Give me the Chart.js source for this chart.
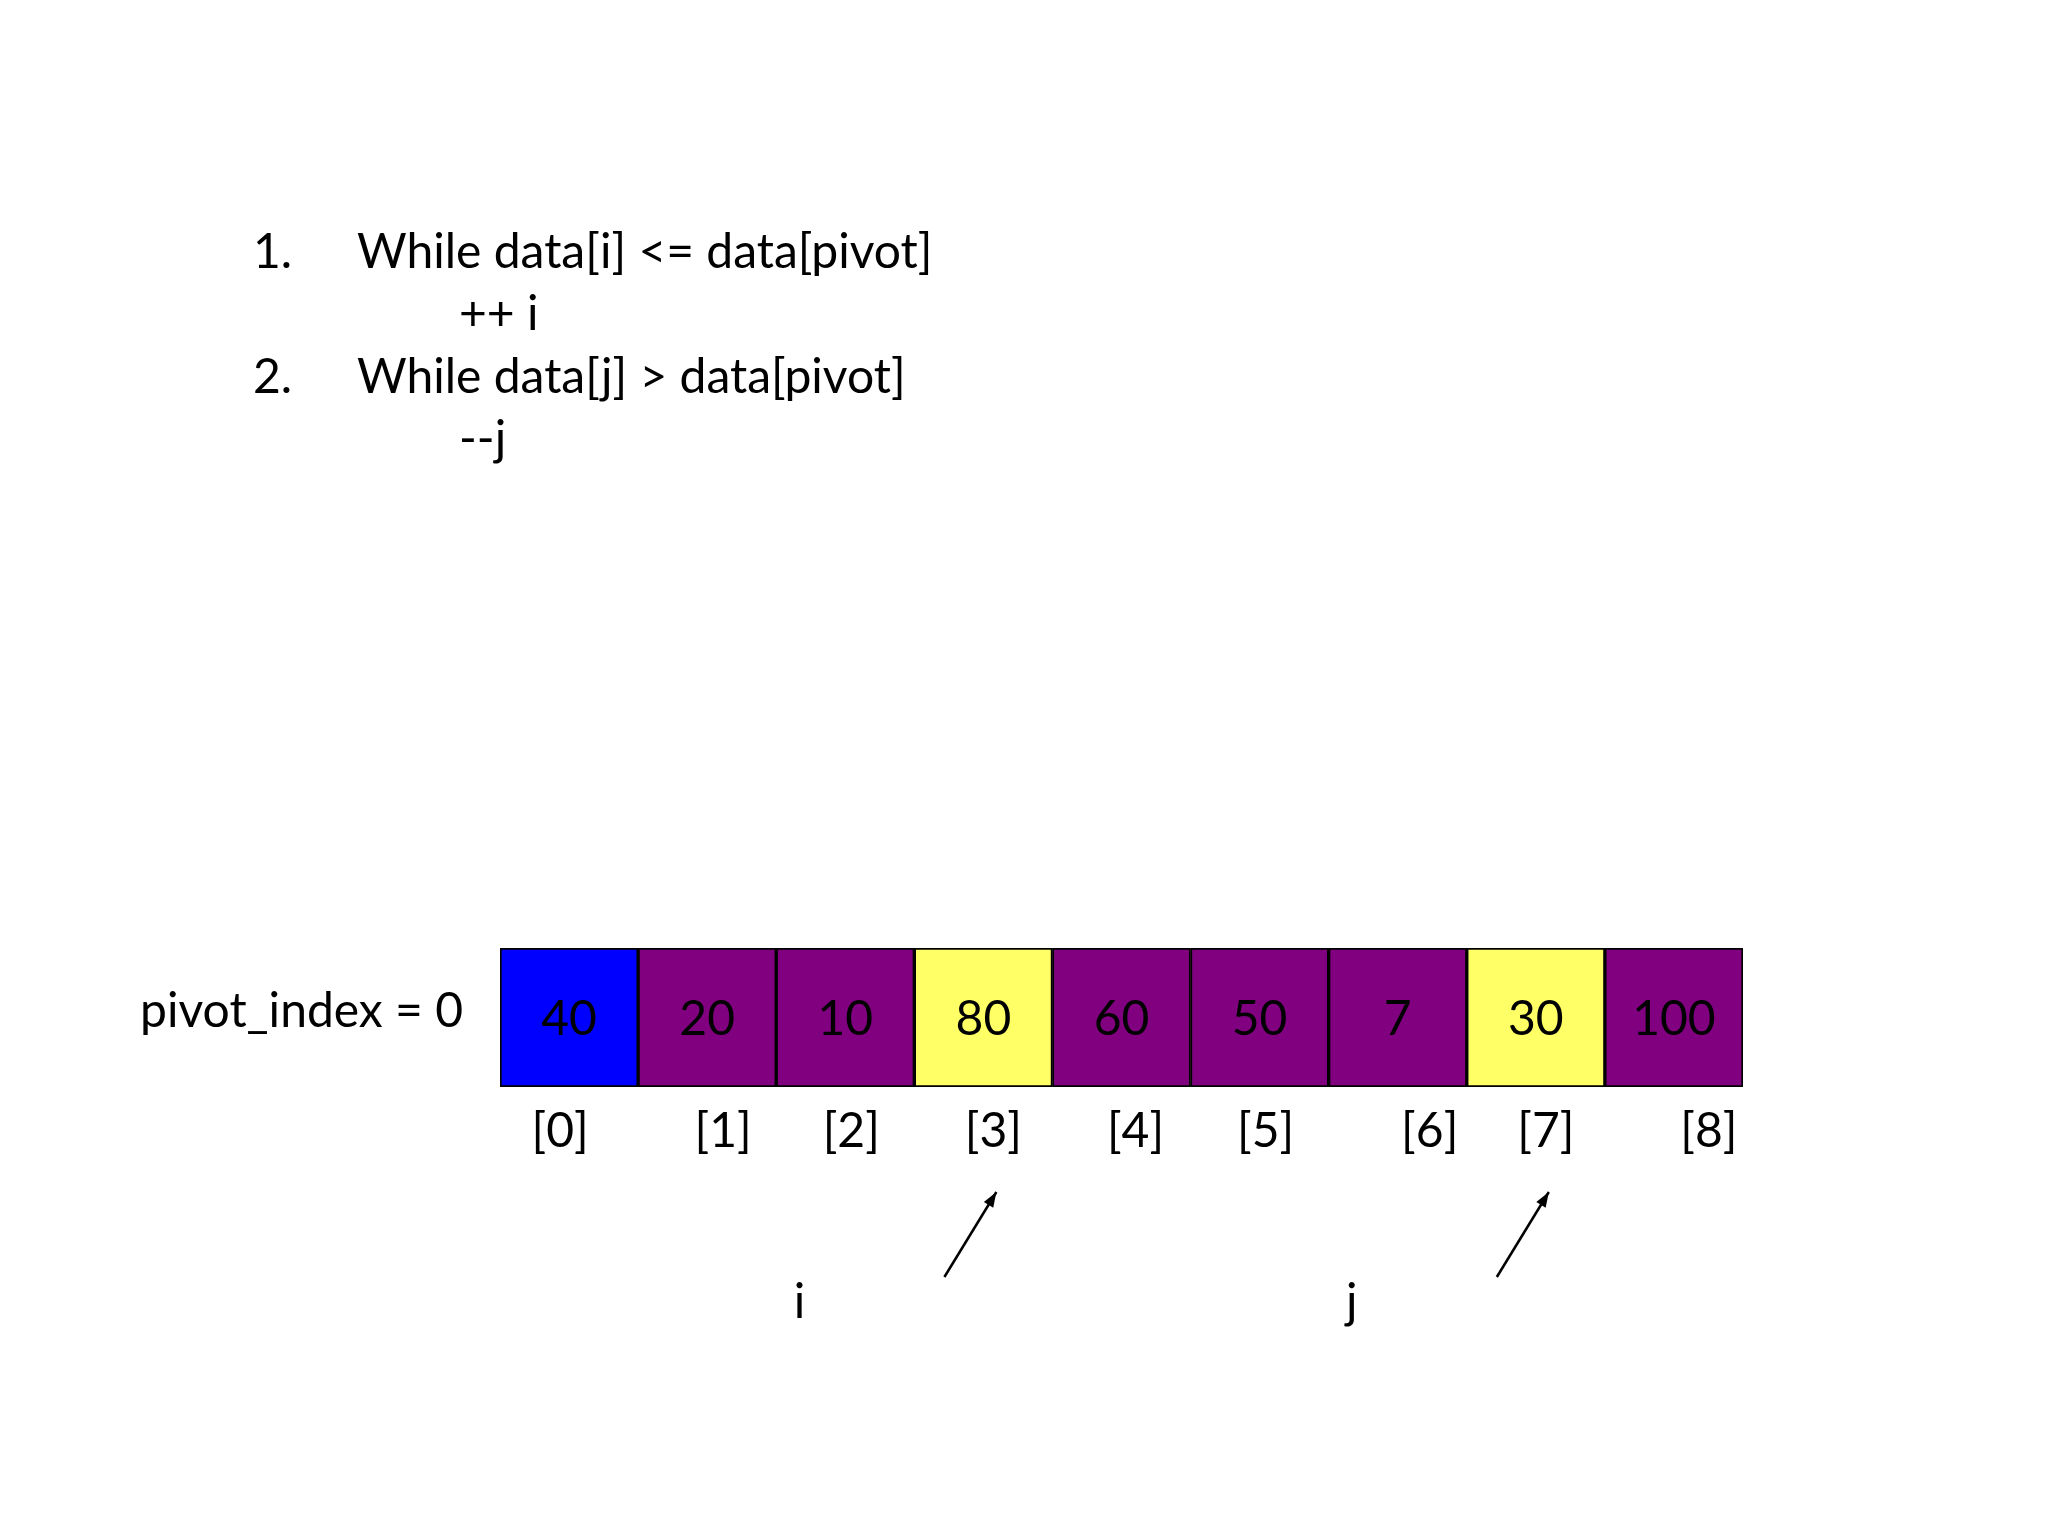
<!DOCTYPE html>
<html>
<head>
<meta charset="utf-8">
<script src="https://cdn.jsdelivr.net/npm/chart.js@4"></script>
<style>
  html, body { margin: 0; padding: 0; background: #fff; }
  canvas { display: block; }
</style>
</head>
<body>
<canvas id="chart" width="2048" height="1536"></canvas>
<script>
var CELL_VALUES = [40, 20, 10, 80, 60, 50, 7, 30, 100];
var CELL_INDEX = ['[0]', '[1]', '[2]', '[3]', '[4]', '[5]', '[6]', '[7]', '[8]'];
var CELL_COLORS = ['#0000ff', '#800080', '#800080', '#ffff66', '#800080', '#800080', '#800080', '#ffff66', '#800080'];
var STEPS = [
    ['1.', 'While data[i] <= data[pivot]', '++ i'],
    ['2.', 'While data[j] > data[pivot]', '--j']
];
var PIVOT_LABEL = 'pivot_index = 0';
var POINTERS = [
    { name: 'i', cell: 3 },
    { name: 'j', cell: 7 }
];

var FONT = '48px Lato, "Open Sans", sans-serif';

//disegna testi e frecce
var slidePlugin = {
    id: 'slide',
    afterDatasetsDraw: function (chart) {
        var ctx = chart.ctx;
        var meta = chart.getDatasetMeta(0);
        var area = chart.chartArea;
        var midY = (area.top + area.bottom) / 2;
        ctx.save();
        ctx.fillStyle = '#000';
        ctx.font = FONT;
        ctx.textBaseline = 'middle';

        // istruzioni
        ctx.textAlign = 'left';
        STEPS.forEach(function (s, k) {
            var y = 253 + k * 125;
            ctx.fillText(s[0], 253, y);
            ctx.fillText(s[1], 357, y);
            ctx.fillText(s[2], 459, y + 62);
        });

        ctx.textAlign = 'right';
        ctx.fillText(PIVOT_LABEL, 463, midY - 6);

        // valori nelle celle
        ctx.textAlign = 'center';
        var idxShift = [-9, 16, 6, 10, 14, 6, 32, 10, 35];
        meta.data.forEach(function (bar, k) {
            ctx.fillText(String(CELL_VALUES[k]), bar.x, midY + 2);
            ctx.fillText(CELL_INDEX[k], bar.x + idxShift[k], area.bottom + 45);
        });

        // frecce
        ctx.strokeStyle = '#000';
        ctx.lineWidth = 2.5;
        POINTERS.forEach(function (p) {
            var bar = meta.data[p.cell];
            var x1 = bar.x + 13, y1 = area.bottom + 105;
            var x0 = x1 - 52, y0 = y1 + 85;
            ctx.beginPath();
            ctx.moveTo(x0, y0);
            ctx.lineTo(x1, y1);
            ctx.stroke();
            var a = Math.atan2(y1 - y0, x1 - x0);
            ctx.beginPath();
            ctx.moveTo(x1, y1);
            ctx.lineTo(x1 - 16 * Math.cos(a - 0.35), y1 - 16 * Math.sin(a - 0.35));
            ctx.lineTo(x1 - 16 * Math.cos(a + 0.35), y1 - 16 * Math.sin(a + 0.35));
            ctx.closePath();
            ctx.fill();
            ctx.fillText(p.name, x0 - 145, y0 + 26);
        });
        ctx.restore();
    }
};

var myChart = new Chart(document.getElementById('chart'), {
    type: 'bar',
    data: {
        labels: CELL_INDEX,
        datasets: [{
            data: CELL_VALUES.map(function () { return 1; }),
            backgroundColor: CELL_COLORS,
            borderColor: '#000',
            borderWidth: 2,
            borderSkipped: false,
            categoryPercentage: 1,
            barPercentage: 1
        }]
    },
    options: {
        responsive: false,
        devicePixelRatio: 1,
        animation: false,
        layout: { padding: { left: 500, right: 305, top: 948, bottom: 449 } },
        plugins: { legend: { display: false }, tooltip: { enabled: false } },
        scales: {
            x: { display: false },
            y: { display: false, min: 0, max: 1 }
        }
    },
    plugins: [slidePlugin]
});
</script>
</body>
</html>
